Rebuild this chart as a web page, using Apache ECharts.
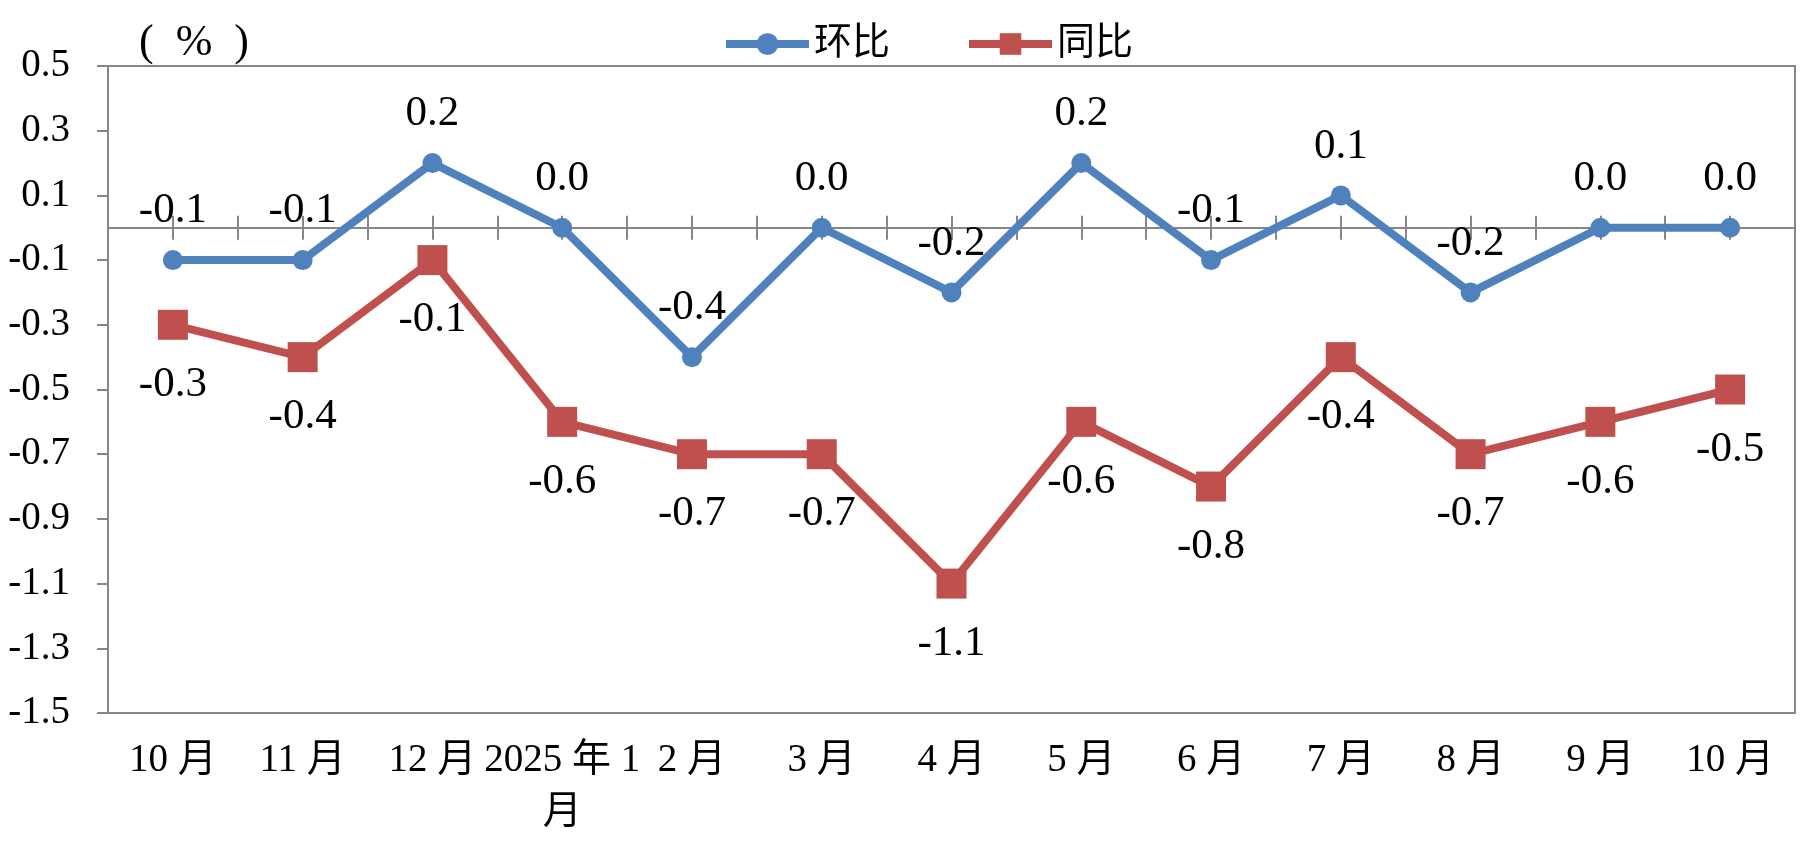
<!DOCTYPE html>
<html>
<head>
<meta charset="utf-8">
<script src="https://cdn.jsdelivr.net/npm/echarts@6/dist/echarts.min.js"></script>
<style>html,body{margin:0;padding:0;background:#fff;}#chart{width:1801px;height:849px;}</style>
</head>
<body>
<div id="chart"></div>
<script>
const categories = ['10月','11月','12月','2025年1月','2月','3月','4月','5月','6月','7月','8月','9月','10月'];
const momValues = [-0.1,-0.1,0.2,0.0,-0.4,0.0,-0.2,0.2,-0.1,0.1,-0.2,0.0,0.0];   // 环比
const yoyValues = [-0.3,-0.4,-0.1,-0.6,-0.7,-0.7,-1.1,-0.6,-0.8,-0.4,-0.7,-0.6,-0.5]; // 同比
const yTicks = [-1.5,-1.3,-1.1,-0.9,-0.7,-0.5,-0.3,-0.1,0.1,0.3,0.5];
const Y_MIN = -1.5, Y_MAX = 0.5;

const FONT = '"Liberation Serif","Noto Sans CJK SC",serif';
const GRAY = '#868686';
const BLUE = '#4F81BD';
const RED = '#C0504D';
const GRID_BOX = { left: 108, right: 6, top: 66, bottom: 136, outerBoundsMode: 'none', containLabel: false };

// helper grids: ticks crossing the zero line (at category boundaries and centres)
const tickDefs = [
  { alignWithLabel: false, inside: false, line: true },
  { alignWithLabel: false, inside: true,  line: false },
  { alignWithLabel: true,  inside: false, line: false },
  { alignWithLabel: true,  inside: true,  line: false }
];

function spaced(v) {
  // Excel leaves a gap between Latin digits and CJK characters
  return v.replace(/(\d)([^\d\s])/g, '$1 $2').replace(/([^\d\s])(\d)/g, '$1 $2').replace('年 1 月', '年 1\n月');
}

const grids = [Object.assign({ show: true, borderColor: GRAY, borderWidth: 2 }, GRID_BOX)];
const xAxes = [{
  type: 'category', data: categories, boundaryGap: true, position: 'bottom', gridIndex: 0,
  axisLine: { show: false, onZero: false }, axisTick: { show: false },
  axisLabel: {
    show: true, interval: 0, margin: 22, color: '#000', fontFamily: FONT, fontSize: 39, lineHeight: 52,
    formatter: spaced
  },
  splitLine: { show: false }
}];
const yAxes = [{
  type: 'value', min: Y_MIN, max: Y_MAX, gridIndex: 0,
  axisLine: { show: true, lineStyle: { color: GRAY, width: 2 } },
  axisTick: { show: true, length: 11, customValues: yTicks, lineStyle: { color: GRAY, width: 2 } },
  axisLabel: { show: true, margin: 38, color: '#000', fontFamily: FONT, fontSize: 39, customValues: yTicks, formatter: v => v.toFixed(1) },
  splitLine: { show: false }
}];
tickDefs.forEach((d, i) => {
  const gi = i + 1;
  grids.push(Object.assign({ show: false }, GRID_BOX));
  xAxes.push({
    type: 'category', data: categories, boundaryGap: true, position: 'bottom', gridIndex: gi,
    axisLine: { show: d.line, onZero: true, lineStyle: { color: GRAY, width: 2 } },
    axisTick: { show: true, inside: d.inside, length: 12, alignWithLabel: d.alignWithLabel, interval: 0, lineStyle: { color: GRAY, width: 2 } },
    axisLabel: { show: false }, splitLine: { show: false }
  });
  yAxes.push({ type: 'value', min: Y_MIN, max: Y_MAX, gridIndex: gi, show: false, axisLine: { show: false }, axisTick: { show: false }, axisLabel: { show: false }, splitLine: { show: false } });
});

const labelStyle = { color: '#000', fontFamily: FONT, fontSize: 43, lineHeight: 44 };

const chart = echarts.init(document.getElementById('chart'));
chart.setOption({
  animation: false,
  backgroundColor: '#fff',
  title: {
    text: '(  %  )', left: 134, top: 16,
    textStyle: { fontFamily: FONT, fontSize: 44, fontWeight: 'normal', color: '#000' }
  },
  legend: {
    left: 717, top: 20, itemWidth: 83, itemHeight: 27, itemGap: 75,
    lineStyle: { width: 8 },
    textStyle: { fontFamily: FONT, fontSize: 38, color: '#000' },
    data: [
      { name: '环比', lineStyle: { width: 8 } },
      { name: '同比', lineStyle: { width: 8 } }
    ]
  },
  grid: grids,
  xAxis: xAxes,
  yAxis: yAxes,
  series: [
    {
      name: '环比', type: 'line', xAxisIndex: 0, yAxisIndex: 0, data: momValues,
      symbol: 'circle', symbolSize: 20,
      itemStyle: { color: BLUE }, lineStyle: { color: BLUE, width: 8 },
      label: Object.assign({ show: true, position: 'top', distance: 17, formatter: p => p.value.toFixed(1) }, labelStyle),
      z: 3
    },
    {
      name: '同比', type: 'line', xAxisIndex: 0, yAxisIndex: 0, data: yoyValues,
      symbol: 'rect', symbolSize: 30,
      itemStyle: { color: RED }, lineStyle: { color: RED, width: 8 },
      label: Object.assign({ show: true, position: 'bottom', distance: 23, formatter: p => p.value.toFixed(1) }, labelStyle),
      z: 3
    }
  ]
});
</script>
</body>
</html>
